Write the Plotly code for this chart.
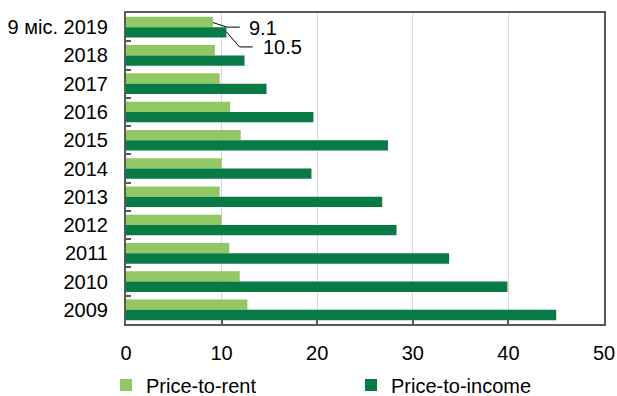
import plotly.graph_objects as go

categories = ["9 міс. 2019", "2018", "2017", "2016", "2015", "2014", "2013", "2012", "2011", "2010", "2009"]
price_to_rent = [9.1, 9.3, 9.8, 10.9, 12.0, 10.0, 9.8, 10.0, 10.8, 11.9, 12.7]
price_to_income = [10.5, 12.4, 14.7, 19.6, 27.4, 19.4, 26.8, 28.3, 33.8, 39.9, 45.0]
x_ticks = [0, 10, 20, 30, 40, 50]

LIGHT = "#92C864"
DARK = "#077A45"
FONT = "Liberation Sans, Arial, sans-serif"
FS = 20

fig = go.Figure()
fig.add_trace(go.Bar(y=categories, x=price_to_rent, orientation="h", name="Price-to-rent",
                     marker=dict(color=LIGHT, line=dict(width=0)), legend="legend"))
fig.add_trace(go.Bar(y=categories, x=price_to_income, orientation="h", name="Price-to-income",
                     marker=dict(color=DARK, line=dict(width=0)), legend="legend2"))

bargap = 0.27
off = (1 - bargap) / 4

# leader lines for the last-period labels
r0, i0 = price_to_rent[0], price_to_income[0]
fig.add_shape(type="path", xref="x", yref="y",
              path=f"M {r0},{-off+0.02} L {r0+1.45},0 L {r0+2.8},0",
              line=dict(color="black", width=1))
fig.add_shape(type="path", xref="x", yref="y",
              path=f"M {i0},{off-0.02} L {i0+1.37},0.70 L {i0+2.75},0.70",
              line=dict(color="black", width=1))
fig.add_annotation(x=r0 + 3.55, y=0.04, xref="x", yref="y", text=f"{r0}", showarrow=False,
                   xanchor="left", yanchor="middle", font=dict(size=FS, color="black", family=FONT))
fig.add_annotation(x=i0 + 3.65, y=0.72, xref="x", yref="y", text=f"{i0}", showarrow=False,
                   xanchor="left", yanchor="middle", font=dict(size=FS, color="black", family=FONT))

leg_common = dict(orientation="h", xref="container", yref="container", xanchor="left",
                  y=11 / 396, yanchor="middle", itemwidth=30, bgcolor="rgba(0,0,0,0)",
                  font=dict(size=FS, color="black", family=FONT))

fig.update_layout(
    width=617, height=396,
    margin=dict(l=126, r=13, t=13, b=72, autoexpand=False),
    barmode="group", bargap=bargap, bargroupgap=0,
    plot_bgcolor="white", paper_bgcolor="white",
    font=dict(family=FONT, size=FS, color="black"),
    showlegend=True,
    legend=dict(x=106 / 617, **leg_common),
    legend2=dict(x=351 / 617, **leg_common),
    xaxis=dict(range=[0, 50], tickvals=x_ticks, showgrid=True, gridcolor="#D9D9D9", gridwidth=1,
               zeroline=False, showline=True, linecolor="#595959", linewidth=2, mirror=True,
               ticks="inside", ticklen=5, tickcolor="#595959", tickwidth=2, automargin=False,
               ticklabelstandoff=10, tickfont=dict(size=FS, color="black")),
    yaxis=dict(type="category", categoryorder="array", categoryarray=categories, autorange="reversed",
               showline=True, linecolor="#595959", linewidth=2, mirror=True, automargin=False,
               ticks="inside", tickson="boundaries", ticklen=5, tickcolor="#595959", tickwidth=2,
               showgrid=False, ticklabelstandoff=12, tickfont=dict(size=FS, color="black")),
)

fig.write_html("out.html")
